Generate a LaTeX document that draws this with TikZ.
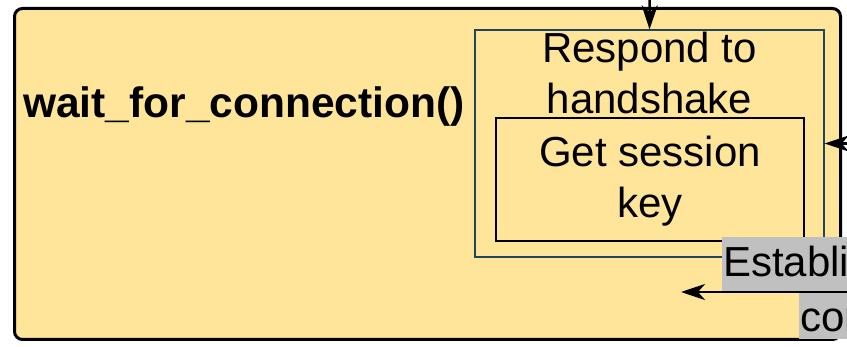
\documentclass[tikz,border=0pt]{standalone}
\usepackage{fontspec}
\setmainfont{Liberation Sans}
\usepackage{tikz}
\usetikzlibrary{
	arrows.meta,
	positioning
}
\usepackage{xcolor}
\definecolor{stateyellow}{HTML}{FFE599}
\definecolor{boxblue}{HTML}{23445D}
\definecolor{labelgray}{HTML}{C0C0C0}

\begin{document}
\begin{tikzpicture}[
		x=1pt, y=-1pt,
		>=Stealth,
		bigtext/.style={
			font=\fontsize{42}{51}\selectfont
		},
		statebox/.style={
			draw,
			line width=3pt,
			rounded corners=8pt,
			fill=stateyellow,
			minimum width=826pt,
			minimum height=331pt
		},
		handbox/.style={
			draw=boxblue,
			line width=1.3pt,
			minimum width=349pt,
			minimum height=227pt
		},
		keybox/.style={
			draw,
			line width=1.5pt,
			minimum width=308pt,
			minimum height=123pt
		},
		edgelabel/.style={
			bigtext,
			fill=labelgray,
			inner xsep=1pt,
			inner ysep=0pt,
			anchor=base west
		},
		flow/.style={
			-{Stealth[length=24pt,width=16pt,inset=7pt]},
			line width=2.5pt
		}
		]
		\useasboundingbox (0,0) rectangle (847,347);
		\clip (0,0) rectangle (847,347);
		
		% State
		\node[statebox] (wait) at (427.5,174) {};
		\node[font=\bfseries\fontsize{42.5}{51}\selectfont, anchor=base west, inner sep=0pt] (waitname) at (23,118) {wait\_for\_connection()};
		
		% Handshake
		\node[handbox] (handshake) at (649.5,143.5) {};
		\node[bigtext, align=center, anchor=north, inner sep=0pt] (respond) at ([yshift=-3pt]handshake.north) {Respond to\\handshake};
		
		% Session key
		\node[keybox] (sessionkey) at (650,179.5) {};
		\node[bigtext, align=center, inner sep=0pt] (sessiontext) at ([yshift=-2pt]sessionkey.center) {Get session\\key};
		
		% Outgoing transition
		\node[edgelabel, text height=40pt, text depth=14pt] (establish) at (722,277) {Establish};
		\node[edgelabel, text height=41pt, text depth=7pt] (connection) at (799,332) {connection};
		
		\coordinate (topin) at (650,-30);
		\coordinate (rightin) at (900,143.5);
		\coordinate (lowin) at (900,292);
		\coordinate (lowout) at (681,292);
		
		\draw[flow] (topin) -- (handshake.north);
		\draw[flow] (rightin) -- (handshake.east);
		\draw[flow] (lowin) -- (lowout);
		
	\end{tikzpicture}
\end{document}
